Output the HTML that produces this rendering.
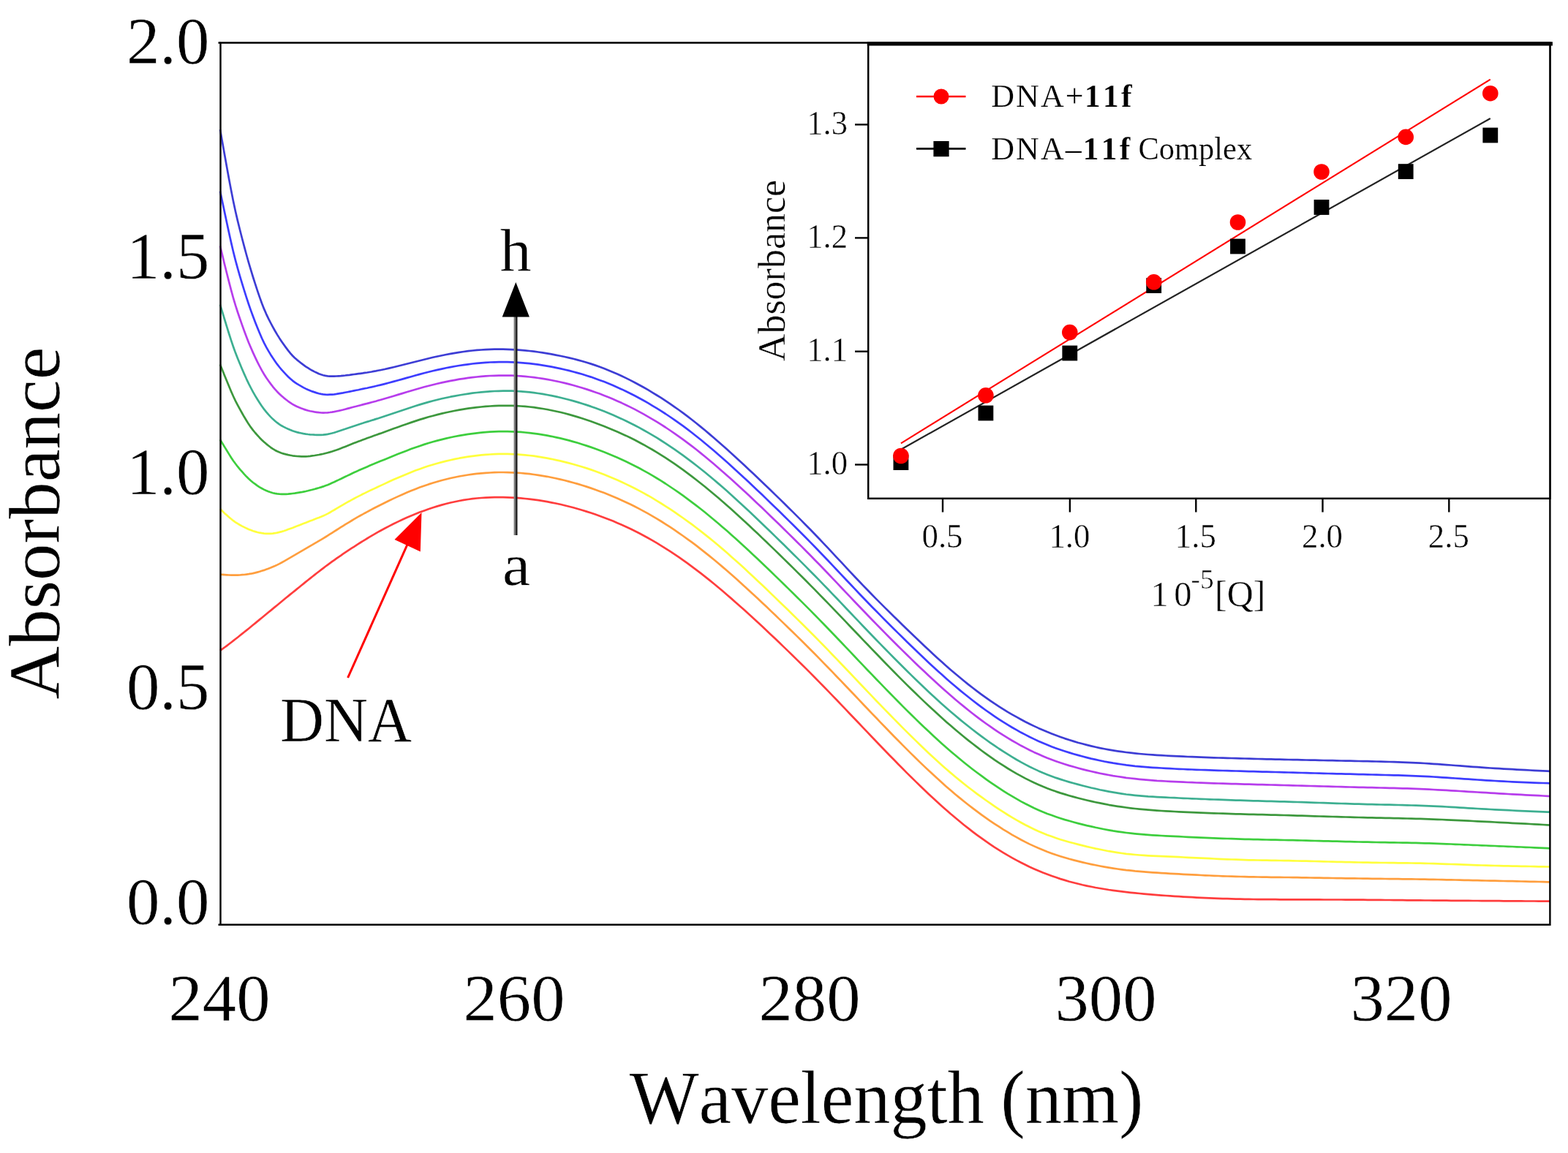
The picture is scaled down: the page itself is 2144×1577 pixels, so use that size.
<!DOCTYPE html>
<html lang="en">
<head>
<meta charset="utf-8">
<title>Absorbance vs Wavelength (nm)</title>
<style>
html,body{margin:0;padding:0;background:#fff;}
body{width:2144px;height:1577px;overflow:hidden;}
svg{display:block;filter:blur(0.6px);}
svg text{font-family:"Liberation Serif", "DejaVu Serif", serif;fill:#000;font-kerning:none;stroke:#fff;stroke-width:0.5px;stroke-linejoin:round;}
svg text.sm{stroke-width:0.45px;}
svg text.lg{stroke-width:0.25px;}
.cv path{fill:none;stroke-width:2.7;stroke-opacity:0.76;stroke-linejoin:round;}
</style>
</head>
<body>
<svg width="2144" height="1577" viewBox="0 0 2144 1577">
<rect x="0" y="0" width="2144" height="1577" fill="#ffffff"/>
<g class="cv">
<path d="M301.0 889.8 L304.0 887.7 L307.0 885.5 L310.0 883.3 L313.0 881.0 L316.0 878.7 L319.0 876.4 L322.0 874.0 L325.0 871.7 L328.0 869.3 L331.0 866.9 L334.0 864.5 L337.0 862.1 L340.0 859.7 L343.0 857.3 L346.0 854.8 L349.0 852.4 L352.0 849.9 L355.0 847.4 L358.0 845.0 L361.0 842.5 L364.0 840.0 L367.0 837.5 L370.0 835.1 L373.0 832.6 L376.0 830.1 L379.0 827.7 L382.0 825.2 L385.0 822.7 L388.0 820.3 L391.0 817.8 L394.0 815.4 L397.0 812.9 L400.0 810.5 L403.0 808.1 L406.0 805.6 L409.0 803.2 L412.0 800.8 L415.0 798.4 L418.0 795.9 L421.0 793.5 L424.0 791.1 L427.0 788.8 L430.0 786.4 L433.0 784.0 L436.0 781.7 L439.0 779.4 L442.0 777.1 L445.0 774.8 L448.0 772.6 L451.0 770.4 L454.0 768.2 L457.0 766.1 L460.0 763.9 L463.0 761.8 L466.0 759.8 L469.0 757.7 L472.0 755.7 L475.0 753.7 L478.0 751.7 L481.0 749.7 L484.0 747.8 L487.0 745.8 L490.0 743.9 L493.0 742.0 L496.0 740.2 L499.0 738.3 L502.0 736.5 L505.0 734.7 L508.0 732.9 L511.0 731.2 L514.0 729.4 L517.0 727.7 L520.0 726.0 L526.0 722.8 L532.0 719.6 L538.0 716.5 L544.0 713.6 L550.0 710.8 L556.0 708.0 L562.0 705.4 L568.0 703.0 L574.0 700.6 L580.0 698.4 L586.0 696.2 L592.0 694.2 L598.0 692.4 L604.0 690.6 L610.0 689.0 L616.0 687.5 L622.0 686.2 L628.0 685.0 L634.0 683.9 L640.0 683.0 L646.0 682.2 L652.0 681.5 L658.0 681.0 L664.0 680.6 L670.0 680.3 L676.0 680.1 L682.0 680.1 L688.0 680.1 L694.0 680.3 L700.0 680.6 L706.0 680.9 L712.0 681.4 L718.0 682.0 L724.0 682.6 L730.0 683.4 L736.0 684.2 L742.0 685.2 L748.0 686.2 L754.0 687.3 L760.0 688.5 L766.0 689.8 L772.0 691.2 L778.0 692.7 L784.0 694.3 L790.0 696.0 L796.0 697.7 L802.0 699.6 L808.0 701.5 L814.0 703.6 L820.0 705.7 L826.0 707.9 L832.0 710.2 L838.0 712.6 L844.0 715.2 L850.0 717.8 L856.0 720.5 L862.0 723.3 L868.0 726.3 L874.0 729.3 L880.0 732.5 L886.0 735.8 L892.0 739.2 L898.0 742.7 L904.0 746.3 L910.0 750.1 L916.0 753.9 L922.0 757.9 L928.0 761.9 L934.0 766.1 L940.0 770.4 L946.0 774.8 L952.0 779.3 L958.0 783.9 L964.0 788.6 L970.0 793.4 L976.0 798.3 L982.0 803.3 L988.0 808.3 L994.0 813.5 L1000.0 818.6 L1006.0 823.9 L1012.0 829.2 L1018.0 834.6 L1024.0 840.0 L1030.0 845.5 L1036.0 851.0 L1042.0 856.6 L1048.0 862.2 L1054.0 867.9 L1060.0 873.6 L1066.0 879.3 L1072.0 885.1 L1078.0 890.9 L1084.0 896.7 L1090.0 902.6 L1096.0 908.5 L1102.0 914.4 L1108.0 920.4 L1114.0 926.5 L1120.0 932.6 L1126.0 938.7 L1132.0 944.9 L1138.0 951.1 L1144.0 957.3 L1150.0 963.6 L1156.0 969.9 L1162.0 976.2 L1168.0 982.5 L1174.0 988.8 L1180.0 995.1 L1186.0 1001.4 L1192.0 1007.7 L1198.0 1014.0 L1204.0 1020.2 L1210.0 1026.5 L1216.0 1032.7 L1222.0 1038.8 L1228.0 1045.0 L1234.0 1051.0 L1240.0 1057.1 L1246.0 1063.0 L1252.0 1068.9 L1258.0 1074.8 L1264.0 1080.5 L1270.0 1086.2 L1276.0 1091.8 L1282.0 1097.3 L1288.0 1102.7 L1294.0 1108.0 L1300.0 1113.3 L1306.0 1118.3 L1312.0 1123.3 L1318.0 1128.2 L1324.0 1132.9 L1330.0 1137.6 L1336.0 1142.1 L1342.0 1146.4 L1348.0 1150.7 L1354.0 1154.8 L1360.0 1158.8 L1366.0 1162.6 L1372.0 1166.3 L1378.0 1169.9 L1384.0 1173.3 L1390.0 1176.6 L1396.0 1179.8 L1402.0 1182.8 L1408.0 1185.7 L1414.0 1188.4 L1420.0 1191.0 L1426.0 1193.5 L1432.0 1195.8 L1438.0 1198.0 L1444.0 1200.1 L1450.0 1202.1 L1456.0 1203.9 L1462.0 1205.7 L1468.0 1207.3 L1474.0 1208.8 L1480.0 1210.3 L1486.0 1211.6 L1492.0 1212.8 L1498.0 1214.0 L1504.0 1215.0 L1510.0 1216.0 L1516.0 1217.0 L1522.0 1217.8 L1528.0 1218.6 L1534.0 1219.4 L1540.0 1220.1 L1546.0 1220.8 L1552.0 1221.4 L1558.0 1222.0 L1564.0 1222.6 L1570.0 1223.1 L1576.0 1223.6 L1582.0 1224.1 L1588.0 1224.6 L1594.0 1225.0 L1600.0 1225.4 L1606.0 1225.8 L1612.0 1226.2 L1618.0 1226.6 L1624.0 1226.9 L1630.0 1227.2 L1636.0 1227.6 L1642.0 1227.9 L1648.0 1228.1 L1654.0 1228.4 L1660.0 1228.6 L1666.0 1228.8 L1672.0 1229.1 L1678.0 1229.2 L1684.0 1229.4 L1690.0 1229.6 L1696.0 1229.7 L1702.0 1229.8 L1708.0 1229.9 L1714.0 1230.0 L1720.0 1230.1 L1726.0 1230.1 L1732.0 1230.2 L1738.0 1230.2 L1744.0 1230.2 L1750.0 1230.3 L1756.0 1230.3 L1762.0 1230.3 L1768.0 1230.3 L1774.0 1230.3 L1780.0 1230.4 L1786.0 1230.4 L1792.0 1230.4 L1798.0 1230.4 L1804.0 1230.4 L1810.0 1230.5 L1816.0 1230.5 L1822.0 1230.5 L1828.0 1230.5 L1834.0 1230.5 L1840.0 1230.6 L1846.0 1230.6 L1852.0 1230.6 L1858.0 1230.7 L1864.0 1230.7 L1870.0 1230.8 L1876.0 1230.8 L1882.0 1230.9 L1888.0 1230.9 L1894.0 1231.0 L1900.0 1231.0 L1906.0 1231.1 L1912.0 1231.1 L1918.0 1231.2 L1924.0 1231.3 L1930.0 1231.3 L1936.0 1231.4 L1942.0 1231.4 L1948.0 1231.5 L1954.0 1231.5 L1960.0 1231.6 L1966.0 1231.6 L1972.0 1231.7 L1978.0 1231.7 L1984.0 1231.8 L1990.0 1231.8 L1996.0 1231.9 L2002.0 1231.9 L2008.0 1231.9 L2014.0 1232.0 L2020.0 1232.0 L2026.0 1232.1 L2032.0 1232.1 L2038.0 1232.1 L2044.0 1232.2 L2050.0 1232.2 L2056.0 1232.3 L2062.0 1232.3 L2068.0 1232.4 L2074.0 1232.4 L2080.0 1232.4 L2086.0 1232.5 L2092.0 1232.5 L2098.0 1232.5 L2104.0 1232.6 L2110.0 1232.6 L2116.0 1232.6 L2119.0 1232.6" stroke="#ff0000"/>
<path d="M301.0 785.8 L304.0 785.9 L307.0 786.1 L310.0 786.3 L313.0 786.5 L316.0 786.6 L319.0 786.7 L322.0 786.7 L325.0 786.6 L328.0 786.5 L331.0 786.2 L334.0 786.0 L337.0 785.6 L340.0 785.2 L343.0 784.7 L346.0 784.1 L349.0 783.4 L352.0 782.6 L355.0 781.8 L358.0 780.8 L361.0 779.9 L364.0 778.8 L367.0 777.7 L370.0 776.6 L373.0 775.3 L376.0 774.0 L379.0 772.6 L382.0 771.1 L385.0 769.5 L388.0 767.8 L391.0 766.1 L394.0 764.4 L397.0 762.7 L400.0 760.9 L403.0 759.2 L406.0 757.4 L409.0 755.7 L412.0 753.9 L415.0 752.2 L418.0 750.4 L421.0 748.6 L424.0 746.8 L427.0 745.1 L430.0 743.3 L433.0 741.6 L436.0 739.8 L439.0 738.1 L442.0 736.3 L445.0 734.5 L448.0 732.6 L451.0 730.7 L454.0 728.8 L457.0 726.9 L460.0 725.0 L463.0 723.1 L466.0 721.2 L469.0 719.3 L472.0 717.4 L475.0 715.6 L478.0 713.8 L481.0 712.0 L484.0 710.2 L487.0 708.4 L490.0 706.7 L493.0 705.0 L496.0 703.4 L499.0 701.7 L502.0 700.1 L505.0 698.5 L508.0 696.9 L511.0 695.3 L514.0 693.7 L517.0 692.2 L520.0 690.7 L526.0 687.7 L532.0 684.7 L538.0 681.9 L544.0 679.1 L550.0 676.4 L556.0 673.8 L562.0 671.3 L568.0 668.9 L574.0 666.6 L580.0 664.5 L586.0 662.4 L592.0 660.5 L598.0 658.7 L604.0 657.0 L610.0 655.5 L616.0 654.0 L622.0 652.7 L628.0 651.5 L634.0 650.5 L640.0 649.5 L646.0 648.7 L652.0 647.9 L658.0 647.3 L664.0 646.8 L670.0 646.5 L676.0 646.2 L682.0 646.0 L688.0 646.0 L694.0 646.1 L700.0 646.3 L706.0 646.6 L712.0 647.0 L718.0 647.6 L724.0 648.2 L730.0 649.0 L736.0 649.8 L742.0 650.8 L748.0 651.8 L754.0 653.0 L760.0 654.3 L766.0 655.6 L772.0 657.0 L778.0 658.6 L784.0 660.2 L790.0 661.9 L796.0 663.7 L802.0 665.6 L808.0 667.6 L814.0 669.7 L820.0 671.9 L826.0 674.1 L832.0 676.5 L838.0 679.0 L844.0 681.5 L850.0 684.2 L856.0 687.0 L862.0 689.8 L868.0 692.8 L874.0 695.9 L880.0 699.1 L886.0 702.4 L892.0 705.8 L898.0 709.4 L904.0 713.0 L910.0 716.8 L916.0 720.7 L922.0 724.7 L928.0 728.8 L934.0 733.0 L940.0 737.3 L946.0 741.7 L952.0 746.2 L958.0 750.9 L964.0 755.6 L970.0 760.4 L976.0 765.3 L982.0 770.3 L988.0 775.4 L994.0 780.5 L1000.0 785.7 L1006.0 791.0 L1012.0 796.4 L1018.0 801.9 L1024.0 807.4 L1030.0 812.9 L1036.0 818.5 L1042.0 824.2 L1048.0 829.8 L1054.0 835.6 L1060.0 841.3 L1066.0 847.1 L1072.0 852.9 L1078.0 858.7 L1084.0 864.5 L1090.0 870.4 L1096.0 876.3 L1102.0 882.3 L1108.0 888.3 L1114.0 894.3 L1120.0 900.4 L1126.0 906.6 L1132.0 912.7 L1138.0 918.9 L1144.0 925.2 L1150.0 931.4 L1156.0 937.7 L1162.0 944.0 L1168.0 950.3 L1174.0 956.6 L1180.0 963.0 L1186.0 969.3 L1192.0 975.6 L1198.0 981.8 L1204.0 988.1 L1210.0 994.3 L1216.0 1000.5 L1222.0 1006.7 L1228.0 1012.8 L1234.0 1018.9 L1240.0 1024.9 L1246.0 1030.9 L1252.0 1036.8 L1258.0 1042.6 L1264.0 1048.4 L1270.0 1054.0 L1276.0 1059.6 L1282.0 1065.1 L1288.0 1070.6 L1294.0 1075.9 L1300.0 1081.1 L1306.0 1086.2 L1312.0 1091.1 L1318.0 1096.0 L1324.0 1100.7 L1330.0 1105.4 L1336.0 1109.9 L1342.0 1114.3 L1348.0 1118.6 L1354.0 1122.8 L1360.0 1126.8 L1366.0 1130.7 L1372.0 1134.6 L1378.0 1138.2 L1384.0 1141.8 L1390.0 1145.2 L1396.0 1148.5 L1402.0 1151.6 L1408.0 1154.6 L1414.0 1157.4 L1420.0 1160.1 L1426.0 1162.6 L1432.0 1165.0 L1438.0 1167.2 L1444.0 1169.3 L1450.0 1171.2 L1456.0 1173.0 L1462.0 1174.8 L1468.0 1176.4 L1474.0 1177.9 L1480.0 1179.4 L1486.0 1180.8 L1492.0 1182.1 L1498.0 1183.3 L1504.0 1184.5 L1510.0 1185.6 L1516.0 1186.6 L1522.0 1187.6 L1528.0 1188.5 L1534.0 1189.3 L1540.0 1190.1 L1546.0 1190.7 L1552.0 1191.4 L1558.0 1191.9 L1564.0 1192.4 L1570.0 1192.9 L1576.0 1193.3 L1582.0 1193.7 L1588.0 1194.1 L1594.0 1194.4 L1600.0 1194.8 L1606.0 1195.1 L1612.0 1195.4 L1618.0 1195.8 L1624.0 1196.1 L1630.0 1196.4 L1636.0 1196.7 L1642.0 1197.0 L1648.0 1197.3 L1654.0 1197.5 L1660.0 1197.8 L1666.0 1198.0 L1672.0 1198.3 L1678.0 1198.5 L1684.0 1198.7 L1690.0 1198.8 L1696.0 1199.0 L1702.0 1199.2 L1708.0 1199.3 L1714.0 1199.4 L1720.0 1199.5 L1726.0 1199.6 L1732.0 1199.7 L1738.0 1199.8 L1744.0 1199.8 L1750.0 1199.9 L1756.0 1200.0 L1762.0 1200.0 L1768.0 1200.1 L1774.0 1200.2 L1780.0 1200.3 L1786.0 1200.4 L1792.0 1200.5 L1798.0 1200.6 L1804.0 1200.7 L1810.0 1200.8 L1816.0 1200.9 L1822.0 1201.0 L1828.0 1201.1 L1834.0 1201.2 L1840.0 1201.3 L1846.0 1201.3 L1852.0 1201.4 L1858.0 1201.5 L1864.0 1201.6 L1870.0 1201.7 L1876.0 1201.8 L1882.0 1201.9 L1888.0 1201.9 L1894.0 1202.0 L1900.0 1202.1 L1906.0 1202.1 L1912.0 1202.2 L1918.0 1202.3 L1924.0 1202.4 L1930.0 1202.4 L1936.0 1202.5 L1942.0 1202.6 L1948.0 1202.7 L1954.0 1202.8 L1960.0 1202.9 L1966.0 1203.0 L1972.0 1203.1 L1978.0 1203.3 L1984.0 1203.4 L1990.0 1203.5 L1996.0 1203.7 L2002.0 1203.8 L2008.0 1203.9 L2014.0 1204.1 L2020.0 1204.2 L2026.0 1204.3 L2032.0 1204.5 L2038.0 1204.6 L2044.0 1204.7 L2050.0 1204.9 L2056.0 1205.0 L2062.0 1205.1 L2068.0 1205.2 L2074.0 1205.4 L2080.0 1205.5 L2086.0 1205.6 L2092.0 1205.8 L2098.0 1205.9 L2104.0 1206.0 L2110.0 1206.2 L2116.0 1206.3 L2119.0 1206.4" stroke="#ff8000"/>
<path d="M301.0 696.0 L304.0 699.0 L307.0 701.9 L310.0 704.6 L313.0 707.3 L316.0 709.8 L319.0 712.2 L322.0 714.3 L325.0 716.2 L328.0 718.0 L331.0 719.6 L334.0 721.1 L337.0 722.6 L340.0 723.9 L343.0 725.1 L346.0 726.2 L349.0 727.1 L352.0 728.0 L355.0 728.7 L358.0 729.2 L361.0 729.6 L364.0 729.8 L367.0 729.9 L370.0 729.8 L373.0 729.6 L376.0 729.2 L379.0 728.6 L382.0 727.9 L385.0 727.1 L388.0 726.2 L391.0 725.2 L394.0 724.1 L397.0 723.0 L400.0 721.9 L403.0 720.7 L406.0 719.6 L409.0 718.4 L412.0 717.2 L415.0 716.1 L418.0 714.9 L421.0 713.7 L424.0 712.5 L427.0 711.4 L430.0 710.2 L433.0 709.1 L436.0 708.0 L439.0 706.8 L442.0 705.5 L445.0 704.1 L448.0 702.6 L451.0 701.0 L454.0 699.2 L457.0 697.5 L460.0 695.7 L463.0 693.9 L466.0 692.1 L469.0 690.4 L472.0 688.6 L475.0 686.9 L478.0 685.3 L481.0 683.6 L484.0 682.0 L487.0 680.4 L490.0 678.9 L493.0 677.4 L496.0 675.8 L499.0 674.4 L502.0 672.9 L505.0 671.4 L508.0 670.0 L511.0 668.6 L514.0 667.2 L517.0 665.8 L520.0 664.4 L526.0 661.6 L532.0 658.8 L538.0 656.1 L544.0 653.5 L550.0 650.9 L556.0 648.4 L562.0 646.0 L568.0 643.6 L574.0 641.4 L580.0 639.3 L586.0 637.3 L592.0 635.5 L598.0 633.7 L604.0 632.1 L610.0 630.6 L616.0 629.2 L622.0 627.9 L628.0 626.7 L634.0 625.7 L640.0 624.7 L646.0 623.9 L652.0 623.1 L658.0 622.4 L664.0 621.9 L670.0 621.5 L676.0 621.1 L682.0 620.9 L688.0 620.9 L694.0 620.9 L700.0 621.1 L706.0 621.4 L712.0 621.8 L718.0 622.3 L724.0 623.0 L730.0 623.7 L736.0 624.6 L742.0 625.6 L748.0 626.7 L754.0 627.8 L760.0 629.1 L766.0 630.4 L772.0 631.9 L778.0 633.4 L784.0 635.0 L790.0 636.7 L796.0 638.5 L802.0 640.4 L808.0 642.4 L814.0 644.5 L820.0 646.7 L826.0 649.0 L832.0 651.4 L838.0 653.9 L844.0 656.5 L850.0 659.2 L856.0 662.1 L862.0 665.0 L868.0 668.0 L874.0 671.1 L880.0 674.4 L886.0 677.7 L892.0 681.2 L898.0 684.8 L904.0 688.5 L910.0 692.3 L916.0 696.2 L922.0 700.2 L928.0 704.3 L934.0 708.5 L940.0 712.8 L946.0 717.2 L952.0 721.8 L958.0 726.4 L964.0 731.1 L970.0 735.9 L976.0 740.8 L982.0 745.8 L988.0 750.9 L994.0 756.1 L1000.0 761.4 L1006.0 766.7 L1012.0 772.1 L1018.0 777.6 L1024.0 783.2 L1030.0 788.8 L1036.0 794.4 L1042.0 800.1 L1048.0 805.8 L1054.0 811.6 L1060.0 817.4 L1066.0 823.2 L1072.0 829.0 L1078.0 834.8 L1084.0 840.7 L1090.0 846.6 L1096.0 852.5 L1102.0 858.5 L1108.0 864.5 L1114.0 870.5 L1120.0 876.6 L1126.0 882.7 L1132.0 888.9 L1138.0 895.2 L1144.0 901.4 L1150.0 907.7 L1156.0 914.0 L1162.0 920.3 L1168.0 926.7 L1174.0 933.0 L1180.0 939.3 L1186.0 945.6 L1192.0 951.9 L1198.0 958.2 L1204.0 964.4 L1210.0 970.6 L1216.0 976.8 L1222.0 982.9 L1228.0 989.0 L1234.0 995.1 L1240.0 1001.1 L1246.0 1007.0 L1252.0 1012.9 L1258.0 1018.7 L1264.0 1024.5 L1270.0 1030.2 L1276.0 1035.8 L1282.0 1041.3 L1288.0 1046.7 L1294.0 1052.0 L1300.0 1057.1 L1306.0 1062.2 L1312.0 1067.1 L1318.0 1072.0 L1324.0 1076.7 L1330.0 1081.3 L1336.0 1085.8 L1342.0 1090.2 L1348.0 1094.5 L1354.0 1098.7 L1360.0 1102.8 L1366.0 1106.8 L1372.0 1110.7 L1378.0 1114.5 L1384.0 1118.1 L1390.0 1121.6 L1396.0 1125.0 L1402.0 1128.3 L1408.0 1131.3 L1414.0 1134.2 L1420.0 1137.0 L1426.0 1139.5 L1432.0 1141.9 L1438.0 1144.1 L1444.0 1146.2 L1450.0 1148.2 L1456.0 1150.0 L1462.0 1151.7 L1468.0 1153.3 L1474.0 1154.9 L1480.0 1156.4 L1486.0 1157.9 L1492.0 1159.2 L1498.0 1160.6 L1504.0 1161.8 L1510.0 1163.0 L1516.0 1164.2 L1522.0 1165.2 L1528.0 1166.1 L1534.0 1167.0 L1540.0 1167.8 L1546.0 1168.4 L1552.0 1169.0 L1558.0 1169.5 L1564.0 1169.9 L1570.0 1170.3 L1576.0 1170.6 L1582.0 1170.9 L1588.0 1171.2 L1594.0 1171.4 L1600.0 1171.7 L1606.0 1171.9 L1612.0 1172.2 L1618.0 1172.5 L1624.0 1172.8 L1630.0 1173.1 L1636.0 1173.4 L1642.0 1173.7 L1648.0 1173.9 L1654.0 1174.2 L1660.0 1174.5 L1666.0 1174.8 L1672.0 1175.1 L1678.0 1175.3 L1684.0 1175.5 L1690.0 1175.7 L1696.0 1175.9 L1702.0 1176.1 L1708.0 1176.3 L1714.0 1176.4 L1720.0 1176.5 L1726.0 1176.6 L1732.0 1176.7 L1738.0 1176.8 L1744.0 1176.9 L1750.0 1177.0 L1756.0 1177.1 L1762.0 1177.2 L1768.0 1177.3 L1774.0 1177.5 L1780.0 1177.6 L1786.0 1177.7 L1792.0 1177.9 L1798.0 1178.0 L1804.0 1178.2 L1810.0 1178.3 L1816.0 1178.5 L1822.0 1178.6 L1828.0 1178.8 L1834.0 1178.9 L1840.0 1179.1 L1846.0 1179.2 L1852.0 1179.3 L1858.0 1179.5 L1864.0 1179.6 L1870.0 1179.7 L1876.0 1179.8 L1882.0 1179.9 L1888.0 1180.0 L1894.0 1180.0 L1900.0 1180.1 L1906.0 1180.2 L1912.0 1180.3 L1918.0 1180.3 L1924.0 1180.4 L1930.0 1180.5 L1936.0 1180.6 L1942.0 1180.7 L1948.0 1180.9 L1954.0 1181.0 L1960.0 1181.2 L1966.0 1181.4 L1972.0 1181.6 L1978.0 1181.8 L1984.0 1182.0 L1990.0 1182.2 L1996.0 1182.4 L2002.0 1182.6 L2008.0 1182.8 L2014.0 1183.1 L2020.0 1183.3 L2026.0 1183.5 L2032.0 1183.6 L2038.0 1183.8 L2044.0 1184.0 L2050.0 1184.1 L2056.0 1184.3 L2062.0 1184.4 L2068.0 1184.6 L2074.0 1184.7 L2080.0 1184.8 L2086.0 1184.9 L2092.0 1185.0 L2098.0 1185.2 L2104.0 1185.3 L2110.0 1185.4 L2116.0 1185.5 L2119.0 1185.5" stroke="#ffff00"/>
<path d="M301.0 601.3 L304.0 606.2 L307.0 611.1 L310.0 616.0 L313.0 620.9 L316.0 625.7 L319.0 630.2 L322.0 634.3 L325.0 638.2 L328.0 641.8 L331.0 645.2 L334.0 648.6 L337.0 651.8 L340.0 654.8 L343.0 657.5 L346.0 660.0 L349.0 662.2 L352.0 664.3 L355.0 666.3 L358.0 668.0 L361.0 669.6 L364.0 671.0 L367.0 672.2 L370.0 673.3 L373.0 674.2 L376.0 674.9 L379.0 675.4 L382.0 675.7 L385.0 675.8 L388.0 675.9 L391.0 675.8 L394.0 675.6 L397.0 675.3 L400.0 675.0 L403.0 674.7 L406.0 674.2 L409.0 673.7 L412.0 673.2 L415.0 672.6 L418.0 672.0 L421.0 671.3 L424.0 670.5 L427.0 669.8 L430.0 669.0 L433.0 668.1 L436.0 667.3 L439.0 666.4 L442.0 665.4 L445.0 664.3 L448.0 663.2 L451.0 661.9 L454.0 660.6 L457.0 659.3 L460.0 657.8 L463.0 656.4 L466.0 655.0 L469.0 653.5 L472.0 652.0 L475.0 650.6 L478.0 649.2 L481.0 647.7 L484.0 646.3 L487.0 645.0 L490.0 643.6 L493.0 642.3 L496.0 641.0 L499.0 639.7 L502.0 638.4 L505.0 637.1 L508.0 635.8 L511.0 634.6 L514.0 633.3 L517.0 632.1 L520.0 630.8 L526.0 628.4 L532.0 625.9 L538.0 623.4 L544.0 621.0 L550.0 618.7 L556.0 616.4 L562.0 614.1 L568.0 612.0 L574.0 609.9 L580.0 607.9 L586.0 606.0 L592.0 604.3 L598.0 602.6 L604.0 601.1 L610.0 599.6 L616.0 598.3 L622.0 597.0 L628.0 595.9 L634.0 594.8 L640.0 593.9 L646.0 593.1 L652.0 592.3 L658.0 591.7 L664.0 591.1 L670.0 590.7 L676.0 590.4 L682.0 590.2 L688.0 590.1 L694.0 590.1 L700.0 590.3 L706.0 590.6 L712.0 590.9 L718.0 591.5 L724.0 592.1 L730.0 592.8 L736.0 593.7 L742.0 594.6 L748.0 595.7 L754.0 596.8 L760.0 598.1 L766.0 599.4 L772.0 600.9 L778.0 602.4 L784.0 604.1 L790.0 605.8 L796.0 607.7 L802.0 609.6 L808.0 611.6 L814.0 613.7 L820.0 616.0 L826.0 618.3 L832.0 620.7 L838.0 623.2 L844.0 625.8 L850.0 628.5 L856.0 631.3 L862.0 634.2 L868.0 637.2 L874.0 640.3 L880.0 643.6 L886.0 646.9 L892.0 650.4 L898.0 654.0 L904.0 657.7 L910.0 661.5 L916.0 665.5 L922.0 669.5 L928.0 673.7 L934.0 677.9 L940.0 682.3 L946.0 686.8 L952.0 691.3 L958.0 696.0 L964.0 700.8 L970.0 705.7 L976.0 710.7 L982.0 715.7 L988.0 720.9 L994.0 726.1 L1000.0 731.4 L1006.0 736.8 L1012.0 742.2 L1018.0 747.7 L1024.0 753.3 L1030.0 758.9 L1036.0 764.6 L1042.0 770.3 L1048.0 776.0 L1054.0 781.8 L1060.0 787.6 L1066.0 793.4 L1072.0 799.3 L1078.0 805.1 L1084.0 811.0 L1090.0 817.0 L1096.0 822.9 L1102.0 828.9 L1108.0 834.9 L1114.0 841.0 L1120.0 847.1 L1126.0 853.3 L1132.0 859.5 L1138.0 865.7 L1144.0 872.0 L1150.0 878.3 L1156.0 884.6 L1162.0 890.9 L1168.0 897.2 L1174.0 903.6 L1180.0 909.9 L1186.0 916.2 L1192.0 922.4 L1198.0 928.7 L1204.0 934.9 L1210.0 941.1 L1216.0 947.3 L1222.0 953.4 L1228.0 959.5 L1234.0 965.6 L1240.0 971.6 L1246.0 977.5 L1252.0 983.4 L1258.0 989.2 L1264.0 995.0 L1270.0 1000.6 L1276.0 1006.2 L1282.0 1011.8 L1288.0 1017.2 L1294.0 1022.5 L1300.0 1027.7 L1306.0 1032.8 L1312.0 1037.8 L1318.0 1042.7 L1324.0 1047.5 L1330.0 1052.2 L1336.0 1056.8 L1342.0 1061.2 L1348.0 1065.6 L1354.0 1069.8 L1360.0 1073.9 L1366.0 1077.9 L1372.0 1081.8 L1378.0 1085.6 L1384.0 1089.2 L1390.0 1092.7 L1396.0 1096.1 L1402.0 1099.3 L1408.0 1102.3 L1414.0 1105.2 L1420.0 1107.9 L1426.0 1110.5 L1432.0 1112.9 L1438.0 1115.1 L1444.0 1117.2 L1450.0 1119.2 L1456.0 1121.1 L1462.0 1122.8 L1468.0 1124.5 L1474.0 1126.1 L1480.0 1127.6 L1486.0 1129.1 L1492.0 1130.4 L1498.0 1131.8 L1504.0 1133.0 L1510.0 1134.2 L1516.0 1135.3 L1522.0 1136.4 L1528.0 1137.3 L1534.0 1138.2 L1540.0 1139.0 L1546.0 1139.7 L1552.0 1140.3 L1558.0 1140.9 L1564.0 1141.4 L1570.0 1141.9 L1576.0 1142.3 L1582.0 1142.6 L1588.0 1143.0 L1594.0 1143.3 L1600.0 1143.6 L1606.0 1143.9 L1612.0 1144.2 L1618.0 1144.5 L1624.0 1144.8 L1630.0 1145.1 L1636.0 1145.3 L1642.0 1145.6 L1648.0 1145.9 L1654.0 1146.1 L1660.0 1146.4 L1666.0 1146.6 L1672.0 1146.8 L1678.0 1147.0 L1684.0 1147.2 L1690.0 1147.4 L1696.0 1147.6 L1702.0 1147.8 L1708.0 1147.9 L1714.0 1148.1 L1720.0 1148.2 L1726.0 1148.3 L1732.0 1148.5 L1738.0 1148.6 L1744.0 1148.7 L1750.0 1148.8 L1756.0 1149.0 L1762.0 1149.1 L1768.0 1149.2 L1774.0 1149.4 L1780.0 1149.5 L1786.0 1149.7 L1792.0 1149.8 L1798.0 1150.0 L1804.0 1150.1 L1810.0 1150.3 L1816.0 1150.4 L1822.0 1150.6 L1828.0 1150.7 L1834.0 1150.9 L1840.0 1151.1 L1846.0 1151.2 L1852.0 1151.3 L1858.0 1151.5 L1864.0 1151.6 L1870.0 1151.7 L1876.0 1151.9 L1882.0 1152.0 L1888.0 1152.1 L1894.0 1152.2 L1900.0 1152.3 L1906.0 1152.4 L1912.0 1152.5 L1918.0 1152.6 L1924.0 1152.7 L1930.0 1152.8 L1936.0 1152.9 L1942.0 1153.1 L1948.0 1153.3 L1954.0 1153.4 L1960.0 1153.6 L1966.0 1153.8 L1972.0 1154.1 L1978.0 1154.3 L1984.0 1154.5 L1990.0 1154.8 L1996.0 1155.0 L2002.0 1155.3 L2008.0 1155.5 L2014.0 1155.8 L2020.0 1156.0 L2026.0 1156.3 L2032.0 1156.5 L2038.0 1156.8 L2044.0 1157.0 L2050.0 1157.3 L2056.0 1157.5 L2062.0 1157.8 L2068.0 1158.0 L2074.0 1158.3 L2080.0 1158.5 L2086.0 1158.8 L2092.0 1159.0 L2098.0 1159.3 L2104.0 1159.6 L2110.0 1159.9 L2116.0 1160.1 L2119.0 1160.3" stroke="#00be00"/>
<path d="M301.0 498.5 L304.0 505.9 L307.0 513.4 L310.0 520.8 L313.0 528.1 L316.0 535.2 L319.0 542.0 L322.0 548.3 L325.0 554.1 L328.0 559.6 L331.0 565.0 L334.0 570.3 L337.0 575.3 L340.0 580.1 L343.0 584.4 L346.0 588.4 L349.0 592.0 L352.0 595.4 L355.0 598.7 L358.0 601.7 L361.0 604.5 L364.0 607.1 L367.0 609.5 L370.0 611.8 L373.0 613.9 L376.0 615.7 L379.0 617.3 L382.0 618.6 L385.0 619.7 L388.0 620.6 L391.0 621.4 L394.0 622.1 L397.0 622.7 L400.0 623.3 L403.0 623.7 L406.0 624.0 L409.0 624.2 L412.0 624.4 L415.0 624.4 L418.0 624.3 L421.0 624.1 L424.0 623.8 L427.0 623.4 L430.0 623.0 L433.0 622.5 L436.0 622.0 L439.0 621.4 L442.0 620.8 L445.0 620.0 L448.0 619.2 L451.0 618.4 L454.0 617.5 L457.0 616.5 L460.0 615.5 L463.0 614.4 L466.0 613.3 L469.0 612.1 L472.0 610.9 L475.0 609.7 L478.0 608.5 L481.0 607.3 L484.0 606.1 L487.0 604.9 L490.0 603.8 L493.0 602.7 L496.0 601.5 L499.0 600.4 L502.0 599.3 L505.0 598.3 L508.0 597.2 L511.0 596.1 L514.0 595.0 L517.0 593.9 L520.0 592.9 L526.0 590.7 L532.0 588.5 L538.0 586.3 L544.0 584.2 L550.0 582.0 L556.0 579.9 L562.0 577.9 L568.0 575.9 L574.0 573.9 L580.0 572.1 L586.0 570.3 L592.0 568.7 L598.0 567.1 L604.0 565.6 L610.0 564.2 L616.0 563.0 L622.0 561.8 L628.0 560.6 L634.0 559.6 L640.0 558.7 L646.0 557.9 L652.0 557.1 L658.0 556.5 L664.0 555.9 L670.0 555.5 L676.0 555.1 L682.0 554.9 L688.0 554.8 L694.0 554.8 L700.0 554.9 L706.0 555.1 L712.0 555.5 L718.0 555.9 L724.0 556.5 L730.0 557.2 L736.0 558.1 L742.0 559.0 L748.0 560.0 L754.0 561.2 L760.0 562.5 L766.0 563.8 L772.0 565.3 L778.0 566.9 L784.0 568.6 L790.0 570.4 L796.0 572.3 L802.0 574.2 L808.0 576.3 L814.0 578.4 L820.0 580.7 L826.0 583.0 L832.0 585.4 L838.0 587.9 L844.0 590.5 L850.0 593.2 L856.0 595.9 L862.0 598.8 L868.0 601.8 L874.0 605.0 L880.0 608.2 L886.0 611.6 L892.0 615.0 L898.0 618.6 L904.0 622.4 L910.0 626.2 L916.0 630.2 L922.0 634.2 L928.0 638.4 L934.0 642.7 L940.0 647.1 L946.0 651.6 L952.0 656.3 L958.0 661.0 L964.0 665.8 L970.0 670.7 L976.0 675.7 L982.0 680.8 L988.0 686.0 L994.0 691.2 L1000.0 696.6 L1006.0 702.0 L1012.0 707.4 L1018.0 712.9 L1024.0 718.5 L1030.0 724.2 L1036.0 729.8 L1042.0 735.6 L1048.0 741.3 L1054.0 747.1 L1060.0 752.9 L1066.0 758.8 L1072.0 764.6 L1078.0 770.5 L1084.0 776.4 L1090.0 782.4 L1096.0 788.3 L1102.0 794.3 L1108.0 800.4 L1114.0 806.4 L1120.0 812.6 L1126.0 818.7 L1132.0 824.9 L1138.0 831.1 L1144.0 837.4 L1150.0 843.6 L1156.0 849.9 L1162.0 856.2 L1168.0 862.5 L1174.0 868.8 L1180.0 875.1 L1186.0 881.3 L1192.0 887.6 L1198.0 893.8 L1204.0 900.0 L1210.0 906.2 L1216.0 912.4 L1222.0 918.5 L1228.0 924.6 L1234.0 930.6 L1240.0 936.6 L1246.0 942.5 L1252.0 948.3 L1258.0 954.1 L1264.0 959.9 L1270.0 965.5 L1276.0 971.1 L1282.0 976.6 L1288.0 982.0 L1294.0 987.4 L1300.0 992.6 L1306.0 997.8 L1312.0 1002.8 L1318.0 1007.8 L1324.0 1012.6 L1330.0 1017.3 L1336.0 1021.9 L1342.0 1026.5 L1348.0 1030.9 L1354.0 1035.1 L1360.0 1039.3 L1366.0 1043.3 L1372.0 1047.2 L1378.0 1051.0 L1384.0 1054.6 L1390.0 1058.1 L1396.0 1061.4 L1402.0 1064.6 L1408.0 1067.6 L1414.0 1070.5 L1420.0 1073.2 L1426.0 1075.8 L1432.0 1078.2 L1438.0 1080.4 L1444.0 1082.6 L1450.0 1084.6 L1456.0 1086.4 L1462.0 1088.2 L1468.0 1089.9 L1474.0 1091.5 L1480.0 1093.0 L1486.0 1094.5 L1492.0 1095.9 L1498.0 1097.2 L1504.0 1098.4 L1510.0 1099.6 L1516.0 1100.8 L1522.0 1101.8 L1528.0 1102.8 L1534.0 1103.7 L1540.0 1104.5 L1546.0 1105.3 L1552.0 1106.0 L1558.0 1106.6 L1564.0 1107.2 L1570.0 1107.7 L1576.0 1108.2 L1582.0 1108.6 L1588.0 1109.0 L1594.0 1109.4 L1600.0 1109.7 L1606.0 1110.0 L1612.0 1110.4 L1618.0 1110.7 L1624.0 1110.9 L1630.0 1111.2 L1636.0 1111.4 L1642.0 1111.7 L1648.0 1111.9 L1654.0 1112.1 L1660.0 1112.3 L1666.0 1112.5 L1672.0 1112.7 L1678.0 1112.9 L1684.0 1113.1 L1690.0 1113.3 L1696.0 1113.4 L1702.0 1113.6 L1708.0 1113.8 L1714.0 1113.9 L1720.0 1114.1 L1726.0 1114.2 L1732.0 1114.4 L1738.0 1114.6 L1744.0 1114.7 L1750.0 1114.9 L1756.0 1115.0 L1762.0 1115.2 L1768.0 1115.4 L1774.0 1115.6 L1780.0 1115.7 L1786.0 1115.9 L1792.0 1116.1 L1798.0 1116.3 L1804.0 1116.5 L1810.0 1116.6 L1816.0 1116.8 L1822.0 1117.0 L1828.0 1117.2 L1834.0 1117.3 L1840.0 1117.5 L1846.0 1117.7 L1852.0 1117.8 L1858.0 1118.0 L1864.0 1118.2 L1870.0 1118.3 L1876.0 1118.4 L1882.0 1118.6 L1888.0 1118.7 L1894.0 1118.8 L1900.0 1118.9 L1906.0 1119.1 L1912.0 1119.2 L1918.0 1119.3 L1924.0 1119.5 L1930.0 1119.6 L1936.0 1119.8 L1942.0 1119.9 L1948.0 1120.1 L1954.0 1120.3 L1960.0 1120.6 L1966.0 1120.8 L1972.0 1121.0 L1978.0 1121.3 L1984.0 1121.6 L1990.0 1121.8 L1996.0 1122.1 L2002.0 1122.4 L2008.0 1122.7 L2014.0 1123.0 L2020.0 1123.3 L2026.0 1123.6 L2032.0 1123.9 L2038.0 1124.2 L2044.0 1124.5 L2050.0 1124.8 L2056.0 1125.1 L2062.0 1125.4 L2068.0 1125.8 L2074.0 1126.1 L2080.0 1126.4 L2086.0 1126.7 L2092.0 1127.0 L2098.0 1127.4 L2104.0 1127.7 L2110.0 1128.0 L2116.0 1128.3 L2119.0 1128.5" stroke="#007800"/>
<path d="M301.0 416.6 L304.0 426.6 L307.0 436.5 L310.0 446.3 L313.0 456.0 L316.0 465.4 L319.0 474.3 L322.0 482.6 L325.0 490.3 L328.0 497.6 L331.0 504.7 L334.0 511.6 L337.0 518.3 L340.0 524.6 L343.0 530.5 L346.0 536.1 L349.0 541.3 L352.0 546.3 L355.0 551.0 L358.0 555.5 L361.0 559.6 L364.0 563.4 L367.0 566.9 L370.0 570.1 L373.0 573.1 L376.0 575.8 L379.0 578.2 L382.0 580.4 L385.0 582.3 L388.0 583.9 L391.0 585.4 L394.0 586.8 L397.0 588.1 L400.0 589.3 L403.0 590.2 L406.0 591.1 L409.0 591.9 L412.0 592.5 L415.0 593.1 L418.0 593.6 L421.0 594.0 L424.0 594.3 L427.0 594.5 L430.0 594.7 L433.0 594.8 L436.0 594.9 L439.0 594.9 L442.0 594.7 L445.0 594.3 L448.0 593.9 L451.0 593.2 L454.0 592.5 L457.0 591.7 L460.0 590.8 L463.0 589.8 L466.0 588.8 L469.0 587.8 L472.0 586.8 L475.0 585.7 L478.0 584.7 L481.0 583.7 L484.0 582.7 L487.0 581.7 L490.0 580.7 L493.0 579.7 L496.0 578.8 L499.0 577.8 L502.0 576.9 L505.0 576.0 L508.0 575.0 L511.0 574.1 L514.0 573.1 L517.0 572.2 L520.0 571.2 L526.0 569.2 L532.0 567.2 L538.0 565.2 L544.0 563.2 L550.0 561.2 L556.0 559.2 L562.0 557.2 L568.0 555.3 L574.0 553.4 L580.0 551.6 L586.0 549.9 L592.0 548.3 L598.0 546.8 L604.0 545.3 L610.0 544.0 L616.0 542.7 L622.0 541.6 L628.0 540.5 L634.0 539.5 L640.0 538.6 L646.0 537.7 L652.0 537.0 L658.0 536.4 L664.0 535.8 L670.0 535.3 L676.0 535.0 L682.0 534.8 L688.0 534.6 L694.0 534.6 L700.0 534.7 L706.0 535.0 L712.0 535.3 L718.0 535.8 L724.0 536.4 L730.0 537.1 L736.0 538.0 L742.0 538.9 L748.0 540.0 L754.0 541.1 L760.0 542.4 L766.0 543.7 L772.0 545.2 L778.0 546.7 L784.0 548.4 L790.0 550.1 L796.0 552.0 L802.0 553.9 L808.0 555.9 L814.0 558.1 L820.0 560.3 L826.0 562.6 L832.0 565.0 L838.0 567.6 L844.0 570.2 L850.0 572.9 L856.0 575.8 L862.0 578.7 L868.0 581.7 L874.0 584.9 L880.0 588.2 L886.0 591.6 L892.0 595.1 L898.0 598.7 L904.0 602.5 L910.0 606.3 L916.0 610.3 L922.0 614.4 L928.0 618.6 L934.0 622.9 L940.0 627.3 L946.0 631.8 L952.0 636.5 L958.0 641.2 L964.0 646.0 L970.0 651.0 L976.0 656.0 L982.0 661.1 L988.0 666.3 L994.0 671.6 L1000.0 676.9 L1006.0 682.4 L1012.0 687.9 L1018.0 693.4 L1024.0 699.0 L1030.0 704.7 L1036.0 710.4 L1042.0 716.2 L1048.0 722.0 L1054.0 727.8 L1060.0 733.6 L1066.0 739.5 L1072.0 745.3 L1078.0 751.2 L1084.0 757.2 L1090.0 763.1 L1096.0 769.1 L1102.0 775.1 L1108.0 781.2 L1114.0 787.2 L1120.0 793.4 L1126.0 799.6 L1132.0 805.8 L1138.0 812.1 L1144.0 818.3 L1150.0 824.7 L1156.0 831.0 L1162.0 837.3 L1168.0 843.6 L1174.0 849.9 L1180.0 856.2 L1186.0 862.5 L1192.0 868.7 L1198.0 875.0 L1204.0 881.1 L1210.0 887.3 L1216.0 893.4 L1222.0 899.5 L1228.0 905.5 L1234.0 911.5 L1240.0 917.5 L1246.0 923.4 L1252.0 929.2 L1258.0 935.0 L1264.0 940.7 L1270.0 946.4 L1276.0 952.0 L1282.0 957.5 L1288.0 962.9 L1294.0 968.2 L1300.0 973.4 L1306.0 978.6 L1312.0 983.6 L1318.0 988.5 L1324.0 993.3 L1330.0 998.0 L1336.0 1002.6 L1342.0 1007.1 L1348.0 1011.5 L1354.0 1015.8 L1360.0 1019.9 L1366.0 1024.0 L1372.0 1027.9 L1378.0 1031.7 L1384.0 1035.4 L1390.0 1039.0 L1396.0 1042.4 L1402.0 1045.6 L1408.0 1048.7 L1414.0 1051.6 L1420.0 1054.4 L1426.0 1057.0 L1432.0 1059.4 L1438.0 1061.7 L1444.0 1063.9 L1450.0 1065.9 L1456.0 1067.8 L1462.0 1069.6 L1468.0 1071.3 L1474.0 1072.9 L1480.0 1074.5 L1486.0 1076.0 L1492.0 1077.5 L1498.0 1078.8 L1504.0 1080.2 L1510.0 1081.4 L1516.0 1082.6 L1522.0 1083.7 L1528.0 1084.7 L1534.0 1085.6 L1540.0 1086.5 L1546.0 1087.2 L1552.0 1087.8 L1558.0 1088.4 L1564.0 1088.9 L1570.0 1089.4 L1576.0 1089.7 L1582.0 1090.1 L1588.0 1090.4 L1594.0 1090.7 L1600.0 1091.0 L1606.0 1091.2 L1612.0 1091.5 L1618.0 1091.8 L1624.0 1092.0 L1630.0 1092.3 L1636.0 1092.5 L1642.0 1092.8 L1648.0 1093.0 L1654.0 1093.3 L1660.0 1093.5 L1666.0 1093.7 L1672.0 1093.9 L1678.0 1094.1 L1684.0 1094.4 L1690.0 1094.6 L1696.0 1094.7 L1702.0 1094.9 L1708.0 1095.1 L1714.0 1095.3 L1720.0 1095.4 L1726.0 1095.6 L1732.0 1095.8 L1738.0 1095.9 L1744.0 1096.1 L1750.0 1096.3 L1756.0 1096.4 L1762.0 1096.6 L1768.0 1096.8 L1774.0 1097.0 L1780.0 1097.2 L1786.0 1097.4 L1792.0 1097.6 L1798.0 1097.8 L1804.0 1098.0 L1810.0 1098.2 L1816.0 1098.4 L1822.0 1098.6 L1828.0 1098.8 L1834.0 1099.0 L1840.0 1099.2 L1846.0 1099.4 L1852.0 1099.6 L1858.0 1099.7 L1864.0 1099.9 L1870.0 1100.1 L1876.0 1100.2 L1882.0 1100.4 L1888.0 1100.5 L1894.0 1100.6 L1900.0 1100.7 L1906.0 1100.9 L1912.0 1101.0 L1918.0 1101.1 L1924.0 1101.3 L1930.0 1101.5 L1936.0 1101.6 L1942.0 1101.9 L1948.0 1102.1 L1954.0 1102.3 L1960.0 1102.6 L1966.0 1102.9 L1972.0 1103.2 L1978.0 1103.5 L1984.0 1103.9 L1990.0 1104.2 L1996.0 1104.6 L2002.0 1104.9 L2008.0 1105.3 L2014.0 1105.6 L2020.0 1106.0 L2026.0 1106.3 L2032.0 1106.7 L2038.0 1107.0 L2044.0 1107.3 L2050.0 1107.6 L2056.0 1107.9 L2062.0 1108.2 L2068.0 1108.5 L2074.0 1108.8 L2080.0 1109.1 L2086.0 1109.3 L2092.0 1109.6 L2098.0 1109.9 L2104.0 1110.1 L2110.0 1110.4 L2116.0 1110.6 L2119.0 1110.7" stroke="#00966e"/>
<path d="M301.0 336.4 L304.0 348.9 L307.0 361.2 L310.0 373.3 L313.0 385.2 L316.0 396.7 L319.0 407.6 L322.0 417.7 L325.0 427.0 L328.0 435.8 L331.0 444.4 L334.0 452.7 L337.0 460.7 L340.0 468.4 L343.0 475.6 L346.0 482.4 L349.0 488.9 L352.0 495.1 L355.0 501.0 L358.0 506.6 L361.0 511.7 L364.0 516.5 L367.0 520.8 L370.0 524.9 L373.0 528.8 L376.0 532.4 L379.0 535.7 L382.0 538.7 L385.0 541.5 L388.0 544.1 L391.0 546.5 L394.0 548.8 L397.0 550.9 L400.0 552.8 L403.0 554.5 L406.0 556.0 L409.0 557.3 L412.0 558.5 L415.0 559.6 L418.0 560.6 L421.0 561.5 L424.0 562.2 L427.0 562.8 L430.0 563.4 L433.0 563.8 L436.0 564.2 L439.0 564.5 L442.0 564.6 L445.0 564.5 L448.0 564.3 L451.0 564.0 L454.0 563.6 L457.0 563.1 L460.0 562.5 L463.0 561.9 L466.0 561.2 L469.0 560.5 L472.0 559.7 L475.0 558.9 L478.0 558.1 L481.0 557.3 L484.0 556.5 L487.0 555.8 L490.0 555.0 L493.0 554.2 L496.0 553.4 L499.0 552.6 L502.0 551.9 L505.0 551.1 L508.0 550.3 L511.0 549.5 L514.0 548.7 L517.0 547.8 L520.0 547.0 L526.0 545.3 L532.0 543.5 L538.0 541.7 L544.0 539.9 L550.0 538.1 L556.0 536.3 L562.0 534.5 L568.0 532.7 L574.0 531.0 L580.0 529.3 L586.0 527.8 L592.0 526.2 L598.0 524.8 L604.0 523.4 L610.0 522.1 L616.0 520.9 L622.0 519.8 L628.0 518.7 L634.0 517.8 L640.0 516.9 L646.0 516.1 L652.0 515.5 L658.0 514.9 L664.0 514.4 L670.0 514.0 L676.0 513.8 L682.0 513.6 L688.0 513.5 L694.0 513.6 L700.0 513.7 L706.0 514.0 L712.0 514.4 L718.0 514.9 L724.0 515.5 L730.0 516.2 L736.0 517.0 L742.0 517.9 L748.0 518.9 L754.0 520.0 L760.0 521.2 L766.0 522.5 L772.0 523.9 L778.0 525.4 L784.0 527.0 L790.0 528.7 L796.0 530.5 L802.0 532.4 L808.0 534.4 L814.0 536.5 L820.0 538.6 L826.0 540.9 L832.0 543.3 L838.0 545.8 L844.0 548.4 L850.0 551.1 L856.0 554.0 L862.0 556.9 L868.0 559.9 L874.0 563.1 L880.0 566.4 L886.0 569.8 L892.0 573.3 L898.0 576.9 L904.0 580.7 L910.0 584.5 L916.0 588.5 L922.0 592.6 L928.0 596.8 L934.0 601.1 L940.0 605.6 L946.0 610.1 L952.0 614.8 L958.0 619.6 L964.0 624.5 L970.0 629.5 L976.0 634.5 L982.0 639.7 L988.0 644.9 L994.0 650.2 L1000.0 655.6 L1006.0 661.0 L1012.0 666.5 L1018.0 672.0 L1024.0 677.6 L1030.0 683.2 L1036.0 688.9 L1042.0 694.6 L1048.0 700.4 L1054.0 706.2 L1060.0 712.0 L1066.0 717.8 L1072.0 723.7 L1078.0 729.6 L1084.0 735.5 L1090.0 741.5 L1096.0 747.4 L1102.0 753.5 L1108.0 759.5 L1114.0 765.7 L1120.0 771.8 L1126.0 778.0 L1132.0 784.3 L1138.0 790.6 L1144.0 796.9 L1150.0 803.2 L1156.0 809.6 L1162.0 815.9 L1168.0 822.2 L1174.0 828.5 L1180.0 834.8 L1186.0 841.0 L1192.0 847.2 L1198.0 853.4 L1204.0 859.5 L1210.0 865.6 L1216.0 871.7 L1222.0 877.7 L1228.0 883.7 L1234.0 889.6 L1240.0 895.5 L1246.0 901.4 L1252.0 907.2 L1258.0 912.9 L1264.0 918.6 L1270.0 924.3 L1276.0 929.8 L1282.0 935.3 L1288.0 940.8 L1294.0 946.1 L1300.0 951.3 L1306.0 956.5 L1312.0 961.5 L1318.0 966.4 L1324.0 971.3 L1330.0 976.0 L1336.0 980.6 L1342.0 985.1 L1348.0 989.5 L1354.0 993.7 L1360.0 997.8 L1366.0 1001.8 L1372.0 1005.7 L1378.0 1009.4 L1384.0 1013.0 L1390.0 1016.4 L1396.0 1019.8 L1402.0 1022.9 L1408.0 1026.0 L1414.0 1028.9 L1420.0 1031.6 L1426.0 1034.2 L1432.0 1036.7 L1438.0 1039.0 L1444.0 1041.2 L1450.0 1043.3 L1456.0 1045.2 L1462.0 1047.1 L1468.0 1048.8 L1474.0 1050.5 L1480.0 1052.1 L1486.0 1053.6 L1492.0 1055.0 L1498.0 1056.4 L1504.0 1057.7 L1510.0 1058.9 L1516.0 1060.0 L1522.0 1061.1 L1528.0 1062.0 L1534.0 1062.9 L1540.0 1063.8 L1546.0 1064.5 L1552.0 1065.2 L1558.0 1065.8 L1564.0 1066.4 L1570.0 1066.9 L1576.0 1067.3 L1582.0 1067.8 L1588.0 1068.1 L1594.0 1068.5 L1600.0 1068.8 L1606.0 1069.1 L1612.0 1069.4 L1618.0 1069.7 L1624.0 1070.0 L1630.0 1070.2 L1636.0 1070.5 L1642.0 1070.7 L1648.0 1070.9 L1654.0 1071.1 L1660.0 1071.3 L1666.0 1071.5 L1672.0 1071.7 L1678.0 1071.9 L1684.0 1072.1 L1690.0 1072.2 L1696.0 1072.4 L1702.0 1072.6 L1708.0 1072.7 L1714.0 1072.9 L1720.0 1073.1 L1726.0 1073.2 L1732.0 1073.4 L1738.0 1073.5 L1744.0 1073.7 L1750.0 1073.9 L1756.0 1074.0 L1762.0 1074.2 L1768.0 1074.4 L1774.0 1074.5 L1780.0 1074.7 L1786.0 1074.8 L1792.0 1075.0 L1798.0 1075.2 L1804.0 1075.3 L1810.0 1075.5 L1816.0 1075.7 L1822.0 1075.8 L1828.0 1076.0 L1834.0 1076.1 L1840.0 1076.3 L1846.0 1076.5 L1852.0 1076.6 L1858.0 1076.8 L1864.0 1076.9 L1870.0 1077.1 L1876.0 1077.2 L1882.0 1077.4 L1888.0 1077.5 L1894.0 1077.6 L1900.0 1077.8 L1906.0 1077.9 L1912.0 1078.1 L1918.0 1078.3 L1924.0 1078.4 L1930.0 1078.7 L1936.0 1078.9 L1942.0 1079.1 L1948.0 1079.4 L1954.0 1079.7 L1960.0 1080.0 L1966.0 1080.3 L1972.0 1080.6 L1978.0 1080.9 L1984.0 1081.3 L1990.0 1081.7 L1996.0 1082.0 L2002.0 1082.4 L2008.0 1082.8 L2014.0 1083.1 L2020.0 1083.5 L2026.0 1083.9 L2032.0 1084.2 L2038.0 1084.6 L2044.0 1084.9 L2050.0 1085.3 L2056.0 1085.6 L2062.0 1086.0 L2068.0 1086.3 L2074.0 1086.6 L2080.0 1086.9 L2086.0 1087.3 L2092.0 1087.6 L2098.0 1087.9 L2104.0 1088.2 L2110.0 1088.5 L2116.0 1088.8 L2119.0 1089.0" stroke="#a000e6"/>
<path d="M301.0 261.6 L304.0 275.7 L307.0 289.9 L310.0 304.0 L313.0 317.9 L316.0 331.4 L319.0 344.2 L322.0 356.1 L325.0 367.1 L328.0 377.6 L331.0 387.6 L334.0 397.4 L337.0 406.9 L340.0 416.0 L343.0 424.6 L346.0 432.8 L349.0 440.7 L352.0 448.3 L355.0 455.6 L358.0 462.5 L361.0 468.8 L364.0 474.6 L367.0 479.9 L370.0 484.9 L373.0 489.6 L376.0 494.0 L379.0 498.2 L382.0 502.0 L385.0 505.6 L388.0 508.9 L391.0 512.1 L394.0 515.2 L397.0 518.0 L400.0 520.6 L403.0 522.8 L406.0 524.9 L409.0 526.7 L412.0 528.4 L415.0 530.1 L418.0 531.6 L421.0 533.0 L424.0 534.2 L427.0 535.4 L430.0 536.4 L433.0 537.4 L436.0 538.2 L439.0 538.9 L442.0 539.4 L445.0 539.7 L448.0 539.8 L451.0 539.7 L454.0 539.6 L457.0 539.3 L460.0 538.9 L463.0 538.4 L466.0 537.9 L469.0 537.4 L472.0 536.8 L475.0 536.2 L478.0 535.6 L481.0 535.0 L484.0 534.4 L487.0 533.8 L490.0 533.2 L493.0 532.5 L496.0 531.9 L499.0 531.3 L502.0 530.7 L505.0 530.0 L508.0 529.4 L511.0 528.7 L514.0 528.0 L517.0 527.3 L520.0 526.6 L526.0 525.1 L532.0 523.5 L538.0 521.9 L544.0 520.2 L550.0 518.6 L556.0 516.9 L562.0 515.2 L568.0 513.5 L574.0 511.9 L580.0 510.3 L586.0 508.8 L592.0 507.3 L598.0 505.9 L604.0 504.6 L610.0 503.3 L616.0 502.1 L622.0 501.0 L628.0 500.0 L634.0 499.1 L640.0 498.3 L646.0 497.5 L652.0 496.9 L658.0 496.3 L664.0 495.9 L670.0 495.5 L676.0 495.3 L682.0 495.1 L688.0 495.1 L694.0 495.2 L700.0 495.4 L706.0 495.7 L712.0 496.1 L718.0 496.6 L724.0 497.2 L730.0 497.9 L736.0 498.7 L742.0 499.6 L748.0 500.6 L754.0 501.7 L760.0 502.9 L766.0 504.1 L772.0 505.5 L778.0 506.9 L784.0 508.5 L790.0 510.1 L796.0 511.8 L802.0 513.7 L808.0 515.6 L814.0 517.7 L820.0 519.9 L826.0 522.1 L832.0 524.5 L838.0 527.0 L844.0 529.7 L850.0 532.4 L856.0 535.3 L862.0 538.2 L868.0 541.3 L874.0 544.5 L880.0 547.8 L886.0 551.2 L892.0 554.8 L898.0 558.4 L904.0 562.2 L910.0 566.0 L916.0 570.0 L922.0 574.1 L928.0 578.4 L934.0 582.7 L940.0 587.2 L946.0 591.8 L952.0 596.5 L958.0 601.3 L964.0 606.2 L970.0 611.2 L976.0 616.3 L982.0 621.5 L988.0 626.7 L994.0 632.0 L1000.0 637.4 L1006.0 642.9 L1012.0 648.4 L1018.0 653.9 L1024.0 659.6 L1030.0 665.2 L1036.0 670.9 L1042.0 676.6 L1048.0 682.4 L1054.0 688.2 L1060.0 694.0 L1066.0 699.8 L1072.0 705.7 L1078.0 711.6 L1084.0 717.5 L1090.0 723.5 L1096.0 729.5 L1102.0 735.5 L1108.0 741.6 L1114.0 747.8 L1120.0 754.0 L1126.0 760.2 L1132.0 766.5 L1138.0 772.9 L1144.0 779.2 L1150.0 785.6 L1156.0 792.0 L1162.0 798.3 L1168.0 804.7 L1174.0 811.0 L1180.0 817.3 L1186.0 823.5 L1192.0 829.7 L1198.0 835.8 L1204.0 841.9 L1210.0 848.0 L1216.0 854.0 L1222.0 860.0 L1228.0 865.9 L1234.0 871.8 L1240.0 877.7 L1246.0 883.5 L1252.0 889.3 L1258.0 895.0 L1264.0 900.7 L1270.0 906.4 L1276.0 911.9 L1282.0 917.4 L1288.0 922.8 L1294.0 928.2 L1300.0 933.4 L1306.0 938.5 L1312.0 943.6 L1318.0 948.5 L1324.0 953.3 L1330.0 958.0 L1336.0 962.6 L1342.0 967.1 L1348.0 971.5 L1354.0 975.7 L1360.0 979.8 L1366.0 983.8 L1372.0 987.7 L1378.0 991.4 L1384.0 995.0 L1390.0 998.4 L1396.0 1001.8 L1402.0 1004.9 L1408.0 1008.0 L1414.0 1010.9 L1420.0 1013.7 L1426.0 1016.3 L1432.0 1018.8 L1438.0 1021.2 L1444.0 1023.4 L1450.0 1025.5 L1456.0 1027.5 L1462.0 1029.4 L1468.0 1031.2 L1474.0 1032.9 L1480.0 1034.5 L1486.0 1036.1 L1492.0 1037.6 L1498.0 1038.9 L1504.0 1040.2 L1510.0 1041.5 L1516.0 1042.6 L1522.0 1043.7 L1528.0 1044.6 L1534.0 1045.5 L1540.0 1046.4 L1546.0 1047.1 L1552.0 1047.8 L1558.0 1048.3 L1564.0 1048.9 L1570.0 1049.4 L1576.0 1049.8 L1582.0 1050.2 L1588.0 1050.5 L1594.0 1050.9 L1600.0 1051.2 L1606.0 1051.5 L1612.0 1051.8 L1618.0 1052.0 L1624.0 1052.3 L1630.0 1052.5 L1636.0 1052.8 L1642.0 1053.0 L1648.0 1053.2 L1654.0 1053.4 L1660.0 1053.6 L1666.0 1053.8 L1672.0 1054.0 L1678.0 1054.2 L1684.0 1054.4 L1690.0 1054.5 L1696.0 1054.7 L1702.0 1054.9 L1708.0 1055.1 L1714.0 1055.2 L1720.0 1055.4 L1726.0 1055.6 L1732.0 1055.7 L1738.0 1055.9 L1744.0 1056.0 L1750.0 1056.2 L1756.0 1056.4 L1762.0 1056.5 L1768.0 1056.7 L1774.0 1056.8 L1780.0 1057.0 L1786.0 1057.2 L1792.0 1057.3 L1798.0 1057.5 L1804.0 1057.6 L1810.0 1057.8 L1816.0 1058.0 L1822.0 1058.1 L1828.0 1058.3 L1834.0 1058.4 L1840.0 1058.6 L1846.0 1058.7 L1852.0 1058.9 L1858.0 1059.1 L1864.0 1059.2 L1870.0 1059.4 L1876.0 1059.5 L1882.0 1059.7 L1888.0 1059.8 L1894.0 1060.0 L1900.0 1060.1 L1906.0 1060.3 L1912.0 1060.4 L1918.0 1060.6 L1924.0 1060.8 L1930.0 1061.1 L1936.0 1061.3 L1942.0 1061.6 L1948.0 1061.9 L1954.0 1062.2 L1960.0 1062.5 L1966.0 1062.9 L1972.0 1063.3 L1978.0 1063.7 L1984.0 1064.1 L1990.0 1064.5 L1996.0 1064.9 L2002.0 1065.3 L2008.0 1065.7 L2014.0 1066.1 L2020.0 1066.5 L2026.0 1066.9 L2032.0 1067.3 L2038.0 1067.7 L2044.0 1068.0 L2050.0 1068.3 L2056.0 1068.7 L2062.0 1069.0 L2068.0 1069.3 L2074.0 1069.6 L2080.0 1069.8 L2086.0 1070.1 L2092.0 1070.3 L2098.0 1070.6 L2104.0 1070.8 L2110.0 1071.0 L2116.0 1071.2 L2119.0 1071.3" stroke="#0000ff"/>
<path d="M301.0 177.2 L304.0 194.2 L307.0 211.0 L310.0 227.7 L313.0 244.2 L316.0 260.1 L319.0 275.2 L322.0 289.2 L325.0 302.1 L328.0 314.3 L331.0 326.0 L334.0 337.4 L337.0 348.5 L340.0 359.1 L343.0 369.2 L346.0 379.0 L349.0 388.4 L352.0 397.6 L355.0 406.4 L358.0 414.7 L361.0 422.4 L364.0 429.3 L367.0 435.6 L370.0 441.5 L373.0 447.1 L376.0 452.5 L379.0 457.6 L382.0 462.4 L385.0 466.9 L388.0 471.2 L391.0 475.4 L394.0 479.4 L397.0 483.1 L400.0 486.5 L403.0 489.5 L406.0 492.1 L409.0 494.5 L412.0 496.9 L415.0 499.1 L418.0 501.3 L421.0 503.2 L424.0 505.1 L427.0 506.8 L430.0 508.4 L433.0 509.8 L436.0 511.2 L439.0 512.3 L442.0 513.2 L445.0 513.9 L448.0 514.3 L451.0 514.6 L454.0 514.6 L457.0 514.6 L460.0 514.5 L463.0 514.3 L466.0 514.1 L469.0 513.8 L472.0 513.5 L475.0 513.1 L478.0 512.8 L481.0 512.4 L484.0 512.0 L487.0 511.6 L490.0 511.2 L493.0 510.8 L496.0 510.4 L499.0 509.9 L502.0 509.5 L505.0 509.0 L508.0 508.5 L511.0 507.9 L514.0 507.4 L517.0 506.8 L520.0 506.2 L526.0 505.0 L532.0 503.6 L538.0 502.2 L544.0 500.8 L550.0 499.3 L556.0 497.8 L562.0 496.2 L568.0 494.7 L574.0 493.2 L580.0 491.7 L586.0 490.2 L592.0 488.8 L598.0 487.5 L604.0 486.2 L610.0 485.0 L616.0 483.9 L622.0 482.8 L628.0 481.8 L634.0 481.0 L640.0 480.2 L646.0 479.5 L652.0 478.9 L658.0 478.5 L664.0 478.1 L670.0 477.8 L676.0 477.7 L682.0 477.6 L688.0 477.7 L694.0 477.8 L700.0 478.1 L706.0 478.4 L712.0 478.9 L718.0 479.4 L724.0 480.0 L730.0 480.7 L736.0 481.5 L742.0 482.4 L748.0 483.4 L754.0 484.4 L760.0 485.6 L766.0 486.8 L772.0 488.0 L778.0 489.4 L784.0 490.8 L790.0 492.4 L796.0 494.0 L802.0 495.8 L808.0 497.6 L814.0 499.6 L820.0 501.7 L826.0 504.0 L832.0 506.4 L838.0 508.9 L844.0 511.5 L850.0 514.3 L856.0 517.1 L862.0 520.1 L868.0 523.2 L874.0 526.5 L880.0 529.8 L886.0 533.2 L892.0 536.8 L898.0 540.5 L904.0 544.2 L910.0 548.1 L916.0 552.1 L922.0 556.3 L928.0 560.5 L934.0 564.9 L940.0 569.4 L946.0 574.0 L952.0 578.7 L958.0 583.6 L964.0 588.5 L970.0 593.6 L976.0 598.7 L982.0 604.0 L988.0 609.3 L994.0 614.6 L1000.0 620.0 L1006.0 625.5 L1012.0 631.0 L1018.0 636.6 L1024.0 642.2 L1030.0 647.8 L1036.0 653.5 L1042.0 659.2 L1048.0 665.0 L1054.0 670.8 L1060.0 676.6 L1066.0 682.4 L1072.0 688.3 L1078.0 694.2 L1084.0 700.1 L1090.0 706.1 L1096.0 712.1 L1102.0 718.2 L1108.0 724.3 L1114.0 730.5 L1120.0 736.8 L1126.0 743.1 L1132.0 749.4 L1138.0 755.8 L1144.0 762.3 L1150.0 768.7 L1156.0 775.1 L1162.0 781.6 L1168.0 788.0 L1174.0 794.3 L1180.0 800.6 L1186.0 806.8 L1192.0 813.0 L1198.0 819.1 L1204.0 825.1 L1210.0 831.1 L1216.0 837.0 L1222.0 843.0 L1228.0 848.8 L1234.0 854.7 L1240.0 860.5 L1246.0 866.3 L1252.0 872.0 L1258.0 877.8 L1264.0 883.5 L1270.0 889.1 L1276.0 894.7 L1282.0 900.2 L1288.0 905.6 L1294.0 910.9 L1300.0 916.2 L1306.0 921.3 L1312.0 926.3 L1318.0 931.3 L1324.0 936.1 L1330.0 940.8 L1336.0 945.3 L1342.0 949.8 L1348.0 954.1 L1354.0 958.3 L1360.0 962.4 L1366.0 966.3 L1372.0 970.1 L1378.0 973.8 L1384.0 977.3 L1390.0 980.7 L1396.0 984.0 L1402.0 987.2 L1408.0 990.2 L1414.0 993.1 L1420.0 995.9 L1426.0 998.5 L1432.0 1001.1 L1438.0 1003.5 L1444.0 1005.8 L1450.0 1008.0 L1456.0 1010.1 L1462.0 1012.0 L1468.0 1013.9 L1474.0 1015.7 L1480.0 1017.3 L1486.0 1018.9 L1492.0 1020.4 L1498.0 1021.8 L1504.0 1023.1 L1510.0 1024.3 L1516.0 1025.4 L1522.0 1026.4 L1528.0 1027.3 L1534.0 1028.2 L1540.0 1029.0 L1546.0 1029.7 L1552.0 1030.4 L1558.0 1031.0 L1564.0 1031.5 L1570.0 1032.0 L1576.0 1032.4 L1582.0 1032.8 L1588.0 1033.2 L1594.0 1033.5 L1600.0 1033.9 L1606.0 1034.2 L1612.0 1034.4 L1618.0 1034.7 L1624.0 1035.0 L1630.0 1035.2 L1636.0 1035.4 L1642.0 1035.7 L1648.0 1035.9 L1654.0 1036.1 L1660.0 1036.3 L1666.0 1036.5 L1672.0 1036.7 L1678.0 1036.8 L1684.0 1037.0 L1690.0 1037.2 L1696.0 1037.3 L1702.0 1037.5 L1708.0 1037.7 L1714.0 1037.8 L1720.0 1038.0 L1726.0 1038.1 L1732.0 1038.3 L1738.0 1038.4 L1744.0 1038.6 L1750.0 1038.7 L1756.0 1038.9 L1762.0 1039.0 L1768.0 1039.1 L1774.0 1039.2 L1780.0 1039.4 L1786.0 1039.5 L1792.0 1039.6 L1798.0 1039.7 L1804.0 1039.9 L1810.0 1040.0 L1816.0 1040.1 L1822.0 1040.2 L1828.0 1040.3 L1834.0 1040.5 L1840.0 1040.6 L1846.0 1040.7 L1852.0 1040.8 L1858.0 1041.0 L1864.0 1041.1 L1870.0 1041.2 L1876.0 1041.4 L1882.0 1041.5 L1888.0 1041.7 L1894.0 1041.8 L1900.0 1042.0 L1906.0 1042.2 L1912.0 1042.4 L1918.0 1042.6 L1924.0 1042.8 L1930.0 1043.1 L1936.0 1043.4 L1942.0 1043.7 L1948.0 1044.0 L1954.0 1044.4 L1960.0 1044.8 L1966.0 1045.2 L1972.0 1045.6 L1978.0 1046.1 L1984.0 1046.5 L1990.0 1047.0 L1996.0 1047.4 L2002.0 1047.9 L2008.0 1048.4 L2014.0 1048.8 L2020.0 1049.2 L2026.0 1049.7 L2032.0 1050.1 L2038.0 1050.5 L2044.0 1050.9 L2050.0 1051.2 L2056.0 1051.6 L2062.0 1051.9 L2068.0 1052.2 L2074.0 1052.6 L2080.0 1052.9 L2086.0 1053.2 L2092.0 1053.5 L2098.0 1053.8 L2104.0 1054.1 L2110.0 1054.4 L2116.0 1054.7 L2119.0 1054.9" stroke="#0000c8"/>
</g>
<g fill="none" stroke="#000" stroke-width="2.4" stroke-linecap="square">
<path d="M301.5 58.5 L301.5 1264.8 L2119.4 1264.8 L2119.4 58.5 Z"/>
<path d="M298.5 58.5 L301.5 58.5 M298.5 1264.8 L301.5 1264.8" stroke-linecap="butt"/>
</g>
<text transform="translate(286.5 86.8) scale(1.01 1)" font-size="90" text-anchor="end">2.0</text>
<text transform="translate(286.5 381.1) scale(1.01 1)" font-size="90" text-anchor="end">1.5</text>
<text transform="translate(286.5 675.6) scale(1.01 1)" font-size="90" text-anchor="end">1.0</text>
<text transform="translate(286.5 970.2) scale(1.01 1)" font-size="90" text-anchor="end">0.5</text>
<text transform="translate(286.5 1264) scale(1.01 1)" font-size="90" text-anchor="end">0.0</text>
<text transform="translate(300 1395.8) scale(1.03 1)" font-size="90" text-anchor="middle">240</text>
<text transform="translate(703 1395.8) scale(1.03 1)" font-size="90" text-anchor="middle">260</text>
<text transform="translate(1107 1395.8) scale(1.03 1)" font-size="90" text-anchor="middle">280</text>
<text transform="translate(1512 1395.8) scale(1.03 1)" font-size="90" text-anchor="middle">300</text>
<text transform="translate(1916 1395.8) scale(1.03 1)" font-size="90" text-anchor="middle">320</text>
<text word-spacing="-2.5" transform="translate(1212.1 1536) scale(1 1.036)" font-size="100.4" text-anchor="middle">Wavelength (nm)</text>
<text transform="translate(80.5 715.5) rotate(-90) scale(1 0.975)" font-size="101" text-anchor="middle">Absorbance</text>
<g>
<rect x="702.6" y="432" width="2.5" height="300" fill="#7a7a7a"/>
<rect x="705.1" y="432" width="2.4" height="300" fill="#1c1c1c"/>
<polygon points="705.3,386 686.7,433.6 723.9,433.6" fill="#000"/>
</g>
<text transform="translate(705 369.8) scale(1 0.957)" font-size="86" text-anchor="middle">h</text>
<text transform="translate(706 800.2) scale(1 0.93)" font-size="86" text-anchor="middle">a</text>
<line x1="475.6" y1="927" x2="560" y2="738" stroke="#ff0000" stroke-width="3"/>
<polygon points="576.5,701 539.5,738 574.8,754.5" fill="#ff0000"/>
<text transform="translate(473 1013.7) scale(0.966 1)" font-size="86" text-anchor="middle">DNA</text>
<rect x="1187.2" y="59" width="932.2" height="622.8" fill="#fff" stroke="#000" stroke-width="2.5"/>
<line x1="1185.7" y1="59.8" x2="2122.9" y2="59.8" stroke="#000" stroke-width="5.2"/>
<g stroke="#000" stroke-width="2.4">
<line x1="1169" y1="170.4" x2="1187.2" y2="170.4"/>
<line x1="1169" y1="325.4" x2="1187.2" y2="325.4"/>
<line x1="1169" y1="480.7" x2="1187.2" y2="480.7"/>
<line x1="1169" y1="635.5" x2="1187.2" y2="635.5"/>
<line x1="1289" y1="681.8" x2="1289" y2="700.5"/>
<line x1="1462.9" y1="681.8" x2="1462.9" y2="700.5"/>
<line x1="1635.3" y1="681.8" x2="1635.3" y2="700.5"/>
<line x1="1808.5" y1="681.8" x2="1808.5" y2="700.5"/>
<line x1="1981.3" y1="681.8" x2="1981.3" y2="700.5"/>
</g>
<text transform="translate(1159 183.9) scale(0.97 1)" font-size="46" text-anchor="end" class="sm">1.3</text>
<text transform="translate(1159 338.9) scale(0.97 1)" font-size="46" text-anchor="end" class="sm">1.2</text>
<text transform="translate(1159 494.2) scale(0.97 1)" font-size="46" text-anchor="end" class="sm">1.1</text>
<text transform="translate(1159 649.0) scale(0.97 1)" font-size="46" text-anchor="end" class="sm">1.0</text>
<text transform="translate(1288.5 748.8) scale(0.975 1)" font-size="46" text-anchor="middle" class="sm">0.5</text>
<text transform="translate(1462.4 748.8) scale(0.975 1)" font-size="46" text-anchor="middle" class="sm">1.0</text>
<text transform="translate(1634.8 748.8) scale(0.975 1)" font-size="46" text-anchor="middle" class="sm">1.5</text>
<text transform="translate(1808.0 748.8) scale(0.975 1)" font-size="46" text-anchor="middle" class="sm">2.0</text>
<text transform="translate(1980.8 748.8) scale(0.975 1)" font-size="46" text-anchor="middle" class="sm">2.5</text>
<text transform="translate(1073 370) rotate(-90)" font-size="52" text-anchor="middle" class="sm">Absorbance</text>
<text class="sm" font-size="48.5"><tspan x="1573.5" y="828.6" letter-spacing="7.5">10</tspan><tspan x="1628.5" y="805.2" font-size="37.5">-5</tspan><tspan x="1661" y="828.8" font-size="50">[Q]</tspan></text>
<line x1="1231.9" y1="606.3" x2="2037.8" y2="108.6" stroke="#ff0000" stroke-width="2.1"/>
<line x1="1231.9" y1="614.7" x2="2037.8" y2="162" stroke="#222" stroke-width="2.2"/>
<g fill="#000">
<rect x="1221.5" y="622.2" width="20.8" height="20.8"/>
<rect x="1337.5" y="554.6" width="20.8" height="20.8"/>
<rect x="1452.4" y="472.6" width="20.8" height="20.8"/>
<rect x="1567.3" y="380.2" width="20.8" height="20.8"/>
<rect x="1682.1" y="326.6" width="20.8" height="20.8"/>
<rect x="1796.6" y="273.1" width="20.8" height="20.8"/>
<rect x="1911.8" y="224.2" width="20.8" height="20.8"/>
<rect x="2027.4" y="174.6" width="20.8" height="20.8"/>
</g><g fill="#ff0000">
<circle cx="1231.9" cy="623.5" r="10.8"/>
<circle cx="1347.9" cy="540.8" r="10.8"/>
<circle cx="1462.8" cy="454.6" r="10.8"/>
<circle cx="1577.7" cy="385.8" r="10.8"/>
<circle cx="1692.5" cy="304" r="10.8"/>
<circle cx="1807" cy="235" r="10.8"/>
<circle cx="1922.2" cy="187.4" r="10.8"/>
<circle cx="2037.8" cy="127.7" r="10.8"/>
</g>
<line x1="1253" y1="132" x2="1320.5" y2="132" stroke="#ff0000" stroke-width="2.6"/>
<circle cx="1287" cy="132" r="10.5" fill="#ff0000"/>
<line x1="1253" y1="203.4" x2="1320.5" y2="203.4" stroke="#000" stroke-width="2.6"/>
<rect x="1276.4" y="193" width="21.2" height="21.2" fill="#000"/>
<text class="lg" transform="translate(1355.2 146)" font-size="44"><tspan letter-spacing="2.1">DNA+</tspan><tspan font-weight="bold" letter-spacing="3.1" dx="-1">11f</tspan></text>
<text class="lg" transform="translate(1355.2 217.6)" font-size="44"><tspan letter-spacing="2.1">DNA–</tspan><tspan font-weight="bold" letter-spacing="3.1" dx="-0.5">11f</tspan></text>
<text transform="translate(1556.5 217.6) scale(0.965 1)" font-size="44" text-anchor="start" class="lg">Complex</text>
</svg>
</body>
</html>
